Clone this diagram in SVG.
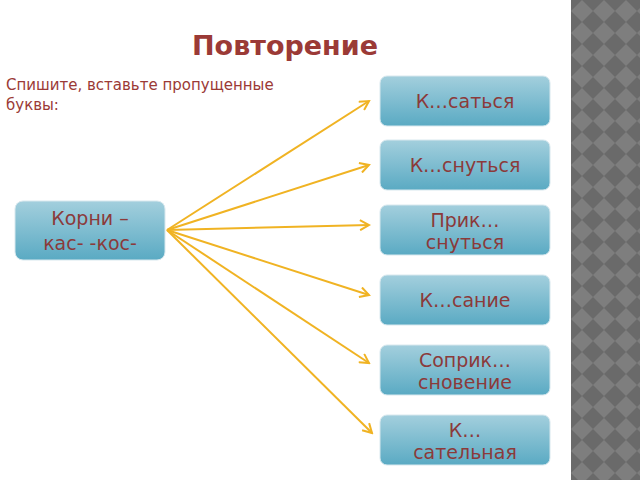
<svg xmlns="http://www.w3.org/2000/svg" width="640" height="480" viewBox="0 0 640 480">
<defs>
<linearGradient id="g" x1="0" y1="0" x2="0" y2="1"><stop offset="0" stop-color="#a3cfdd"/><stop offset="1" stop-color="#5aaac3"/></linearGradient>
<pattern id="chk" width="22" height="22" patternUnits="userSpaceOnUse" x="571"><rect width="22" height="22" fill="#6a6a6a"/><polygon points="11,0 22,11 11,22 0,11" fill="#7e7e7e"/></pattern>
<marker id="a" markerWidth="12" markerHeight="12" refX="10" refY="6" orient="auto" markerUnits="userSpaceOnUse"><path d="M1,1 L10,6 L1,11" fill="none" stroke="#f0b323" stroke-width="2"/></marker>
<style>
.b{fill:url(#g);stroke:#d8e8ee;stroke-width:1}
.t{font-family:"DejaVu Sans",sans-serif;font-size:19px;fill:#8b3a3a;text-anchor:middle}
.c{stroke:#f0b323;stroke-width:2;fill:none;marker-end:url(#a)}
</style>
</defs>
<rect width="640" height="480" fill="#fff"/>
<rect x="571" y="0" width="69" height="480" fill="url(#chk)"/>
<text x="285" y="55" font-family="DejaVu Sans,sans-serif" font-size="27" font-weight="bold" fill="#9b3a36" text-anchor="middle">Повторение</text>
<text font-family="DejaVu Sans,sans-serif" font-size="15" fill="#9b3a36"><tspan x="6" y="90">Спишите, вставьте пропущенные</tspan><tspan x="6" y="110">буквы:</tspan></text>
<g id="connectors">
<line class="c" x1="167" y1="230" x2="369" y2="101"/>
<line class="c" x1="167" y1="230" x2="369" y2="165"/>
<line class="c" x1="167" y1="230" x2="369" y2="225"/>
<line class="c" x1="167" y1="230" x2="369" y2="295"/>
<line class="c" x1="167" y1="230" x2="369" y2="363"/>
<line class="c" x1="167" y1="230" x2="372" y2="433"/>
</g>
<g id="root"><rect class="b" x="15" y="201" width="150" height="59" rx="8"/><text class="t"><tspan x="90" y="225">Корни –</tspan><tspan x="90" y="250">кас-  -кос-</tspan></text></g>
<g id="n1"><rect class="b" x="380" y="76" width="170" height="50" rx="7"/><text class="t" x="465" y="108">К…саться</text></g>
<g id="n2"><rect class="b" x="380" y="140" width="170" height="50" rx="7"/><text class="t" x="465" y="172">К…снуться</text></g>
<g id="n3"><rect class="b" x="380" y="205" width="170" height="50" rx="7"/><text class="t"><tspan x="465" y="227">Прик…</tspan><tspan x="465" y="249">снуться</tspan></text></g>
<g id="n4"><rect class="b" x="380" y="275" width="170" height="50" rx="7"/><text class="t" x="465" y="307">К…сание</text></g>
<g id="n5"><rect class="b" x="380" y="345" width="170" height="50" rx="7"/><text class="t"><tspan x="465" y="367">Соприк…</tspan><tspan x="465" y="389">сновение</tspan></text></g>
<g id="n6"><rect class="b" x="380" y="415" width="170" height="50" rx="7"/><text class="t"><tspan x="465" y="437">К…</tspan><tspan x="465" y="459">сательная</tspan></text></g>
</svg>
